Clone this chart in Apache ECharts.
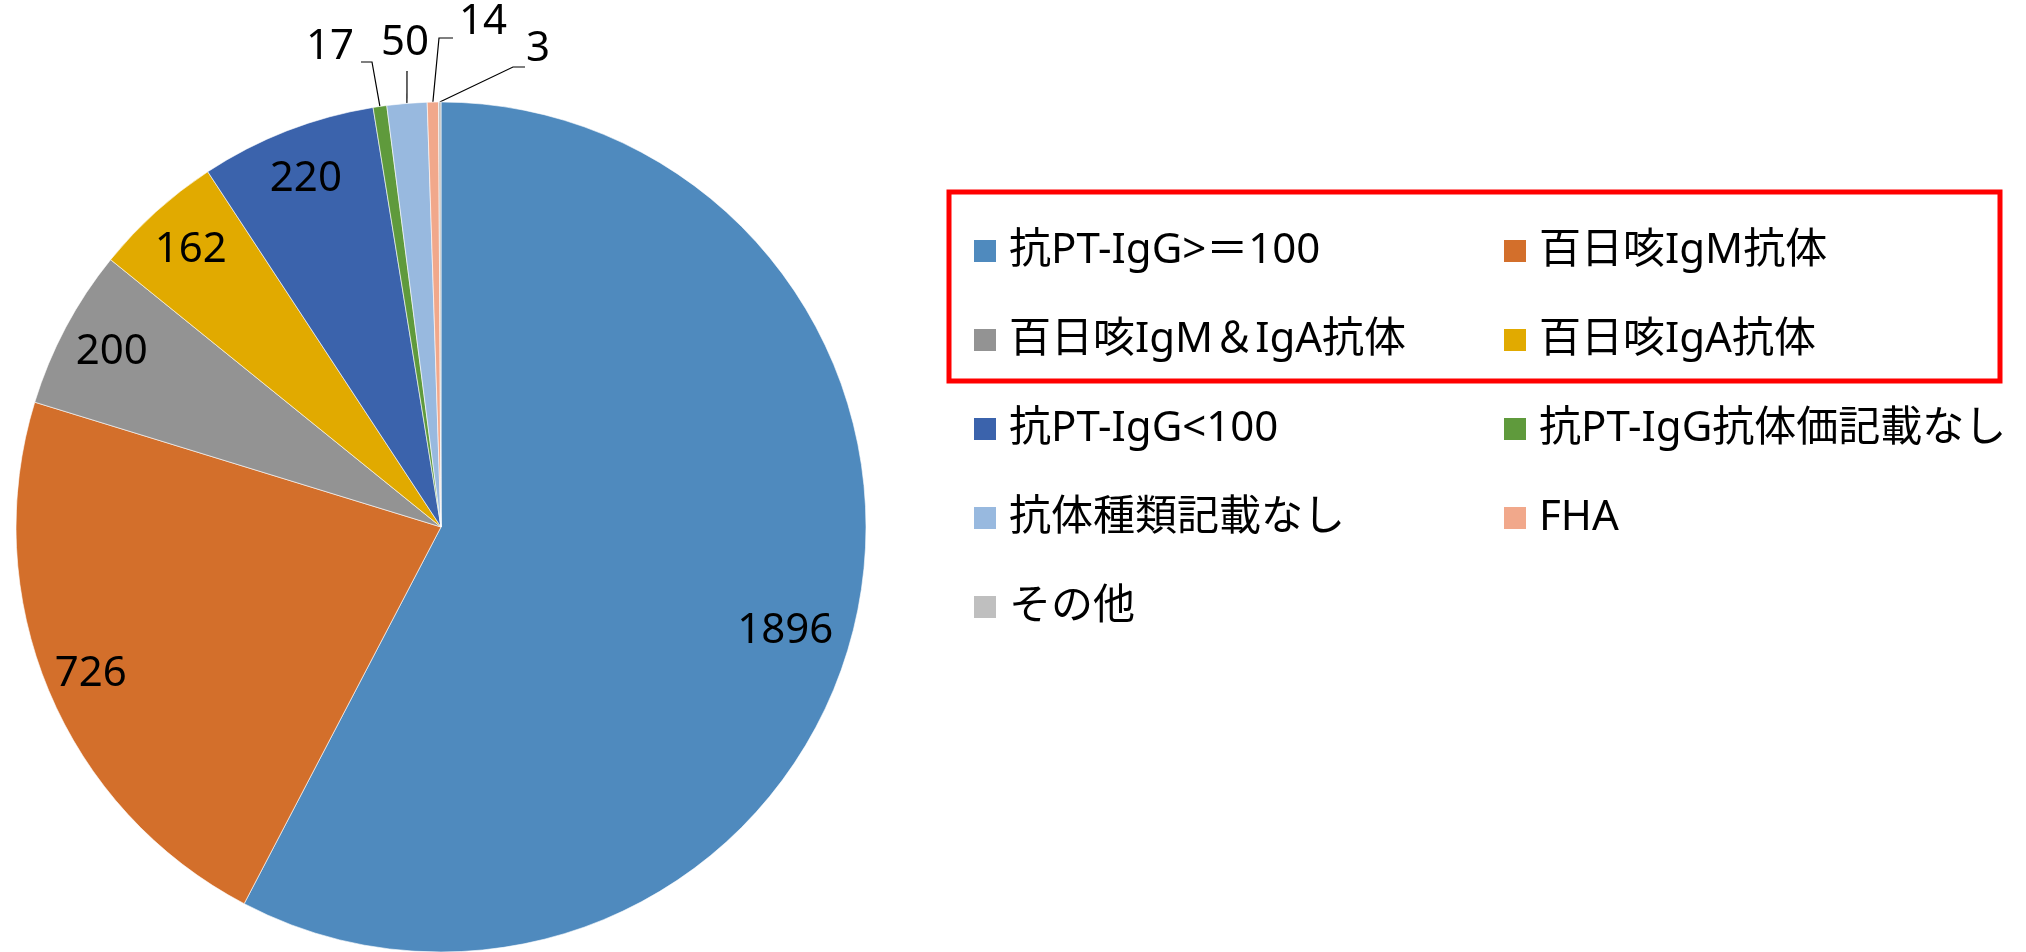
<!DOCTYPE html>
<html>
<head>
<meta charset="utf-8">
<script src="https://cdn.jsdelivr.net/npm/echarts@6/dist/echarts.min.js"></script>
<style>
  html, body { margin: 0; padding: 0; background: #fff; }
  #main { width: 2026px; height: 952px; }
</style>
</head>
<body>
<div id="main"></div>
<script>
// 凡例・データ
const categories = ['抗PT-IgG>＝100', '百日咳IgM抗体', '百日咳IgM＆IgA抗体', '百日咳IgA抗体', '抗PT-IgG<100',
  '抗PT-IgG抗体価記載なし', '抗体種類記載なし', 'FHA', 'その他']
const counts = [1896, 726, 200, 162, 220, 17, 50, 14, 3]
const colors = ['#4F8ABE', '#D36F2B', '#939393', '#E1AA00', '#3B63AC', '#5F9A3C', '#98B9DF', '#F1A88B', '#BFBFBF']

const font = "'Noto Sans', 'Noto Sans CJK JP', sans-serif"
const total = counts.reduce((a, b) => a + b, 0)
const isSmall = v => v / total < 0.02

// 小さい扇形のラベル位置（引き出し線の折れ点）
const smallLabels = {
  5: { x: 354, y: 47, align: 'right', bend: [[372, 62], [361, 62]] },
  6: { x: 405, y: 43, align: 'center', bend: [[407, 71]] },
  7: { x: 459, y: 22, align: 'left', bend: [[439, 38], [453, 38]] },
  8: { x: 526, y: 49, align: 'left', bend: [[513, 67], [525, 67]] }
}
// 内側ラベルの微調整
const labelNudge = { 0: [-18, 15], 1: [-6, 3] }

const chart = echarts.init(document.getElementById('main'))

const option = {
  animation: false,
  color: colors,
  textStyle: { fontFamily: font },
  legend: {
    data: categories,
    left: 972,
    top: 206.5,
    width: 1100,
    padding: 0,
    itemGap: 0,
    itemWidth: 24,
    itemHeight: 24,
    icon: 'rect',
    selectedMode: false,
    textStyle: {
      fontFamily: font,
      fontSize: 42,
      color: '#000',
      width: 493,
      lineHeight: 89,
      padding: [0, 0, 0, 7]
    }
  },
  graphic: [{
    type: 'rect',
    shape: { x: 949, y: 192, width: 1051, height: 189 },
    style: { fill: 'none', stroke: '#FF0000', lineWidth: 5 },
    z: 10
  }],
  series: [
    {
      // 円グラフ本体
      type: 'pie',
      center: [441, 527],
      radius: 425,
      startAngle: 90,
      clockwise: true,
      avoidLabelOverlap: false,
      itemStyle: { borderColor: '#fff', borderWidth: 0.6 },
      emphasis: { disabled: true },
      label: {
        position: 'outside',
        fontFamily: font,
        fontSize: 42,
        color: '#000',
        formatter: '{c}'
      },
      labelLine: { length: 20, length2: 10, lineStyle: { color: '#000', width: 1.2 } },
      labelLayout: params => {
        const s = smallLabels[params.dataIndex]
        if (!s) return {}
        const start = params.labelLinePoints ? params.labelLinePoints[0] : null
        return {
          x: s.x,
          y: s.y,
          align: s.align,
          verticalAlign: 'middle',
          labelLinePoints: start ? [start].concat(s.bend) : undefined
        }
      },
      data: categories.map((name, i) => ({
        name: name,
        value: counts[i],
        label: { show: isSmall(counts[i]) },
        labelLine: { show: isSmall(counts[i]) }
      }))
    },
    {
      // 大きい扇形の数値ラベル用（透明リング）
      type: 'pie',
      center: [441, 527],
      radius: [322, 418],
      startAngle: 90,
      clockwise: true,
      silent: true,
      legendHoverLink: false,
      avoidLabelOverlap: false,
      itemStyle: { color: 'rgba(0,0,0,0)', borderWidth: 0 },
      emphasis: { disabled: true },
      label: {
        position: 'inside',
        fontFamily: font,
        fontSize: 42,
        color: '#000',
        formatter: '{c}'
      },
      labelLine: { show: false },
      data: categories.map((name, i) => ({
        name: name,
        value: counts[i],
        label: { show: !isSmall(counts[i]), offset: labelNudge[i] || [0, 0] }
      }))
    }
  ]
}

chart.setOption(option)
</script>
</body>
</html>
